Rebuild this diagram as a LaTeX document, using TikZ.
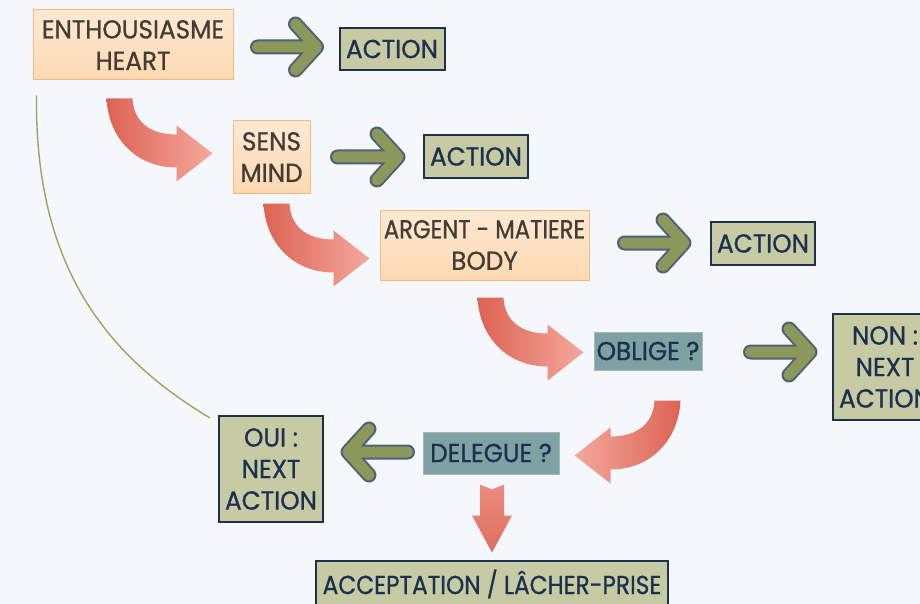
\documentclass[tikz,border=0pt]{standalone}
\usepackage{fontspec}
\setmainfont{Poppins}[FakeStretch=0.95, FakeBold=0.8]
\usetikzlibrary{calc}
\definecolor{bg}{HTML}{F4F8FC}
\definecolor{peachfill}{HTML}{FCD9B2}
\definecolor{peachtop}{HTML}{FEE9D2}
\definecolor{peachline}{HTML}{F3B97E}
\definecolor{peachtext}{HTML}{433C34}
\definecolor{olivefill}{HTML}{C7CBA3}
\definecolor{navy}{HTML}{1C3050}
\definecolor{tealfill}{HTML}{7EA1A2}
\definecolor{tealline}{HTML}{A3B9B9}
\definecolor{garrow}{HTML}{8C985A}
\definecolor{garrowline}{HTML}{4E6278}
\definecolor{reddark}{HTML}{DD6353}
\definecolor{redlight}{HTML}{F4A89C}
\definecolor{curvecol}{HTML}{9EA45E}

\newcommand\greenarr[3]{% start, tip, direction
  \foreach \c/\w in {garrowline/15pt, garrow/11pt}{
    \draw[\c, line width=\w, line cap=round, line join=round]
      (#1) -- (#2) ($(#2)+(-21*#3,-23)$) -- (#2) -- ($(#2)+(-21*#3,23)$);
  }}
\newcommand\redcurve[3]{% origin, xscale, shading colors left/right
  \begin{scope}[shift={(#1)}, xscale=#2]
    \shade[#3]
      (0,0) -- (26,0) .. controls (27,22) and (42,36) .. (70,36) -- (70,27)
      -- (106,55) -- (70,83) -- (70,69) .. controls (30,69) and (2,40) .. (0,0) -- cycle;
  \end{scope}}

\begin{document}
\begin{tikzpicture}[x=1pt,y=-1pt,
  txt/.style={font=\fontsize{26}{31.5}\selectfont, align=center, inner sep=0pt},
  peachbox/.style={txt, draw=peachline, line width=1pt, top color=peachtop, bottom color=peachfill, text=peachtext},
  actbox/.style={txt, draw=navy, line width=2pt, fill=olivefill, text=navy},
  qbox/.style={txt, draw=tealline, line width=1pt, fill=tealfill, text=navy},
  thincurve/.style={draw=curvecol, line width=1.4pt}
  ]
  \useasboundingbox (0,0) rectangle (920,604);
  \clip (0,0) rectangle (920,604);
  \fill[bg] (0,0) rectangle (920,604);

  \node[peachbox, minimum width=200pt, minimum height=70pt] (heart) at (133,45) {ENTHOUSIASME\\HEART};
  \node[actbox, minimum width=105pt, minimum height=42pt] (act1) at (392,49) {ACTION};
  \node[peachbox, minimum width=77pt, minimum height=72pt] (sens) at (271.5,157) {SENS\\MIND};
  \node[actbox, minimum width=104pt, minimum height=43pt] (act2) at (476,156.5) {ACTION};
  \node[peachbox, minimum width=209pt, minimum height=70pt] (body) at (484.5,245) {\scalebox{0.92}[1]{ARGENT - MATIERE}\\BODY};
  \node[actbox, minimum width=104pt, minimum height=43pt] (act3) at (763,243.5) {ACTION};
  \node[qbox, minimum width=108pt, minimum height=38pt] (oblige) at (648,351) {OBLIGE ?};
  \node[actbox, minimum width=104pt, minimum height=106pt] (non) at (885,367) {NON :\\NEXT\\ACTION};
  \node[qbox, minimum width=136pt, minimum height=42pt] (delegue) at (491,453) {DELEGUE ?};
  \node[actbox, minimum width=104pt, minimum height=106pt] (oui) at (271,469) {OUI :\\NEXT\\ACTION};
  \node[actbox, minimum width=352pt, minimum height=46pt] (accept) at (492,584) {\scalebox{0.94}[1]{ACCEPTATION / LÂCHER-PRISE}};

  % green arrows
  \coordinate (g1s) at ($(heart.east)+(24,2)$);
  \coordinate (g1t) at ($(g1s -| act1.west)+(-22,0)$);
  \greenarr{g1s}{g1t}{1}
  \coordinate (g2s) at ($(sens.east)+(27,0)$);
  \coordinate (g2t) at ($(g2s -| act2.west)+(-25,0)$);
  \greenarr{g2s}{g2t}{1}
  \coordinate (g3s) at ($(body.east)+(35,-2)$);
  \coordinate (g3t) at ($(g3s -| act3.west)+(-26,0)$);
  \greenarr{g3s}{g3t}{1}
  \coordinate (g4s) at ($(oblige.east)+(48,1)$);
  \coordinate (g4t) at ($(g4s -| non.west)+(-22,0)$);
  \greenarr{g4s}{g4t}{1}
  \coordinate (g5s) at ($(delegue.west)+(-15,-1)$);
  \coordinate (g5t) at ($(g5s -| oui.east)+(24,0)$);
  \greenarr{g5s}{g5t}{-1}

  % red curved arrows
  \coordinate (r1) at ($(heart.south west)+(74,18)$);
  \redcurve{r1}{1}{left color=reddark, right color=redlight}
  \coordinate (r2) at ($(sens.south west)+(31,10)$);
  \redcurve{r2}{1}{left color=reddark, right color=redlight}
  \coordinate (r3) at ($(body.south west)+(98,17)$);
  \redcurve{r3}{1}{left color=reddark, right color=redlight}
  \coordinate (r4) at ($(oblige.south east)+(-22,30)$);
  \redcurve{r4}{-1}{left color=redlight, right color=reddark}

  % down arrow
  \coordinate (d0) at ($(delegue.south)+(1,10)$);
  \shade[top color=redlight!60!reddark, bottom color=reddark!85!redlight, shift={(d0)}]
    (-12,0) -- (0,5) -- (12,0) -- (12,31) -- (20,31) -- (0,68) -- (-20,31) -- (-12,31) -- cycle;

  % thin curve
  \coordinate (c0) at ($(heart.south west)+(4,15)$);
  \coordinate (c1) at ($(oui.north west)+(-8,3)$);
  \draw[thincurve] (c0) .. controls ($(c0)+(-2,175)$) and ($(c1)+(-100,-60)$) .. (c1);
\end{tikzpicture}
\end{document}
